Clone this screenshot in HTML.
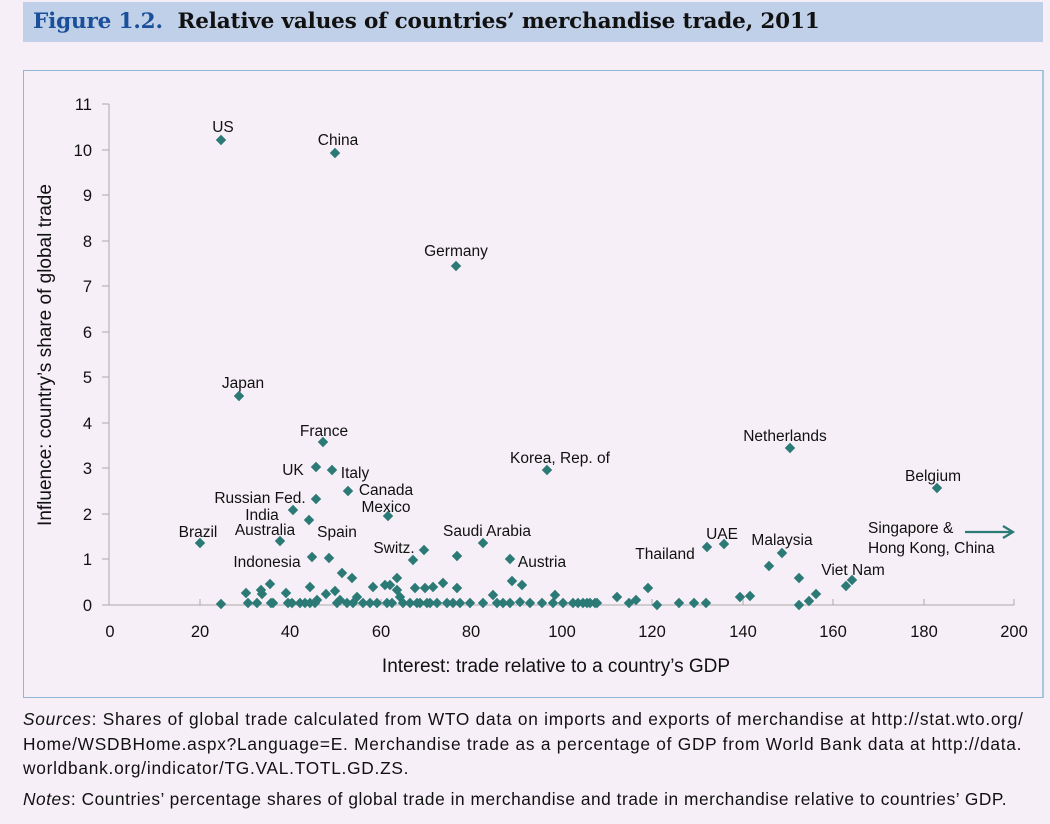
<!DOCTYPE html>
<html><head><meta charset="utf-8"><style>
body{margin:0;background:#f6eff7;width:1050px;height:824px;overflow:hidden;font-family:"Liberation Sans",sans-serif;}
.title{position:absolute;left:23px;top:2px;width:1020px;height:40px;background:#c0d0e8;}
.title span{position:absolute;left:10px;top:7px;font-family:"DejaVu Serif","Liberation Serif",serif;font-weight:bold;font-size:21.5px;color:#111;white-space:nowrap;letter-spacing:-0.15px}
.title b{color:#1a4f9a}
.box{position:absolute;left:23px;top:70px;width:1018px;height:626px;border:1px solid #8fb6d6;border-right:2px solid #a8c8dc;}
.foot{position:absolute;left:23px;top:707px;width:1030px;font-size:17.3px;line-height:24.5px;color:#111;white-space:nowrap;letter-spacing:0.75px}
</style></head><body>
<div class="title"><span><b>Figure 1.2.</b>&nbsp; Relative values of countries’ merchandise trade, 2011</span></div>
<div class="box"></div>
<svg width="1050" height="824" style="position:absolute;left:0;top:0" font-family="Liberation Sans, sans-serif">
<defs><path id="d" d="M0,-5.2 L5.2,0 0,5.2 -5.2,0Z" fill="#2b7a76"/></defs>
<g stroke="#aaa" stroke-width="1" fill="none">
<line x1="109" y1="104" x2="109" y2="605"/>
<line x1="109" y1="605" x2="1014" y2="605"/>
<path d="M102,104H109M102,150H109M102,195H109M102,241H109M102,286H109M102,332H109M102,377H109M102,423H109M102,468H109M102,514H109M102,559H109M102,605H109"/>
<path d="M200,605V599M290,605V599M381,605V599M471,605V599M562,605V599M652,605V599M743,605V599M833,605V599M924,605V599M1014,605V599"/>
</g>
<g font-size="16.5" text-anchor="end" fill="#111">
<text x="92" y="110">11</text><text x="92" y="156">10</text><text x="92" y="201">9</text><text x="92" y="247">8</text><text x="92" y="292">7</text><text x="92" y="338">6</text><text x="92" y="383">5</text><text x="92" y="429">4</text><text x="92" y="474">3</text><text x="92" y="520">2</text><text x="92" y="565">1</text><text x="92" y="611">0</text>
</g>
<g font-size="16.5" text-anchor="middle" fill="#111">
<text x="110" y="637">0</text><text x="200" y="637">20</text><text x="290" y="637">40</text><text x="381" y="637">60</text><text x="471" y="637">80</text><text x="562" y="637">100</text><text x="652" y="637">120</text><text x="743" y="637">140</text><text x="833" y="637">160</text><text x="924" y="637">180</text><text x="1014" y="637">200</text>
</g>
<text x="556" y="672" font-size="19" text-anchor="middle" fill="#111">Interest: trade relative to a country’s GDP</text>
<text transform="translate(51,355) rotate(-90)" font-size="19" text-anchor="middle" fill="#111">Influence: country’s share of global trade</text>
<g font-size="15.5" fill="#111" text-anchor="middle">
<text x="223" y="132">US</text><text x="338" y="145">China</text><text x="456" y="256">Germany</text><text x="243" y="388">Japan</text><text x="324" y="436">France</text><text x="293" y="475">UK</text><text x="355" y="478">Italy</text><text x="260" y="503">Russian Fed.</text><text x="386" y="495">Canada</text><text x="386" y="512">Mexico</text><text x="262" y="520">India</text><text x="265" y="535">Australia</text><text x="337" y="537">Spain</text><text x="198" y="537">Brazil</text><text x="267" y="567">Indonesia</text><text x="394" y="553">Switz.</text><text x="487" y="536">Saudi Arabia</text><text x="542" y="567">Austria</text><text x="560" y="463">Korea, Rep. of</text><text x="785" y="441">Netherlands</text><text x="933" y="481">Belgium</text><text x="722" y="539">UAE</text><text x="782" y="545">Malaysia</text><text x="665" y="559">Thailand</text><text x="853" y="575">Viet Nam</text>
<text x="868" y="533" text-anchor="start">Singapore &amp;</text><text x="868" y="553" text-anchor="start">Hong Kong, China</text>
</g>
<g stroke="#2b7a76" stroke-width="2.2" fill="none"><path d="M965,532H1012M1003,526L1013,532 1003,538"/></g>
<g>
<use href="#d" x="221" y="140"/><use href="#d" x="335" y="153"/><use href="#d" x="456" y="266"/><use href="#d" x="239" y="396"/><use href="#d" x="323" y="442"/><use href="#d" x="316" y="467"/><use href="#d" x="332" y="470"/><use href="#d" x="316" y="499"/><use href="#d" x="348" y="491"/><use href="#d" x="388" y="516"/><use href="#d" x="293" y="510"/><use href="#d" x="309" y="520"/><use href="#d" x="280" y="541"/><use href="#d" x="200" y="543"/><use href="#d" x="547" y="470"/><use href="#d" x="790" y="448"/><use href="#d" x="937" y="488"/>
<use href="#d" x="312" y="557"/><use href="#d" x="329" y="558"/><use href="#d" x="413" y="560"/><use href="#d" x="424" y="550"/><use href="#d" x="457" y="556"/><use href="#d" x="483" y="543"/><use href="#d" x="510" y="559"/>
<use href="#d" x="221" y="604"/><use href="#d" x="246" y="593"/><use href="#d" x="248" y="603"/><use href="#d" x="257" y="603"/><use href="#d" x="261" y="590"/><use href="#d" x="262" y="594"/><use href="#d" x="270" y="584"/><use href="#d" x="271" y="603"/><use href="#d" x="273" y="603"/><use href="#d" x="286" y="593"/><use href="#d" x="288" y="603"/><use href="#d" x="292" y="603"/><use href="#d" x="300" y="603"/><use href="#d" x="305" y="603"/><use href="#d" x="310" y="603"/><use href="#d" x="315" y="603"/><use href="#d" x="310" y="587"/><use href="#d" x="317" y="600"/><use href="#d" x="326" y="594"/><use href="#d" x="335" y="591"/><use href="#d" x="342" y="573"/><use href="#d" x="352" y="578"/><use href="#d" x="340" y="600"/><use href="#d" x="337" y="603"/><use href="#d" x="347" y="603"/><use href="#d" x="353" y="603"/><use href="#d" x="357" y="597"/>
<use href="#d" x="363" y="603"/><use href="#d" x="370" y="603"/><use href="#d" x="373" y="587"/><use href="#d" x="377" y="603"/><use href="#d" x="385" y="585"/><use href="#d" x="387" y="603"/><use href="#d" x="390" y="585"/><use href="#d" x="392" y="603"/><use href="#d" x="397" y="578"/><use href="#d" x="397" y="590"/><use href="#d" x="400" y="597"/><use href="#d" x="403" y="603"/><use href="#d" x="410" y="603"/><use href="#d" x="415" y="588"/><use href="#d" x="417" y="603"/><use href="#d" x="420" y="603"/><use href="#d" x="425" y="588"/><use href="#d" x="427" y="603"/><use href="#d" x="430" y="603"/><use href="#d" x="433" y="587"/><use href="#d" x="437" y="603"/><use href="#d" x="443" y="583"/><use href="#d" x="447" y="603"/><use href="#d" x="453" y="603"/><use href="#d" x="457" y="588"/><use href="#d" x="460" y="603"/><use href="#d" x="470" y="603"/><use href="#d" x="483" y="603"/><use href="#d" x="493" y="595"/><use href="#d" x="497" y="603"/><use href="#d" x="503" y="603"/><use href="#d" x="510" y="603"/><use href="#d" x="512" y="581"/><use href="#d" x="522" y="585"/><use href="#d" x="520" y="602"/><use href="#d" x="530" y="603"/><use href="#d" x="542" y="603"/><use href="#d" x="553" y="603"/><use href="#d" x="555" y="595"/><use href="#d" x="563" y="603"/><use href="#d" x="573" y="603"/><use href="#d" x="578" y="603"/><use href="#d" x="587" y="603"/><use href="#d" x="595" y="603"/><use href="#d" x="617" y="597"/>
<use href="#d" x="583" y="603"/><use href="#d" x="590" y="603"/><use href="#d" x="597" y="603"/><use href="#d" x="629" y="603"/><use href="#d" x="636" y="600"/><use href="#d" x="648" y="588"/><use href="#d" x="657" y="605"/><use href="#d" x="679" y="603"/><use href="#d" x="694" y="603"/><use href="#d" x="706" y="603"/><use href="#d" x="707" y="547"/><use href="#d" x="724" y="544"/><use href="#d" x="740" y="597"/><use href="#d" x="750" y="596"/><use href="#d" x="769" y="566"/><use href="#d" x="782" y="553"/><use href="#d" x="799" y="578"/><use href="#d" x="799" y="605"/><use href="#d" x="809" y="601"/><use href="#d" x="816" y="594"/><use href="#d" x="846" y="586"/><use href="#d" x="852" y="580"/>
</g>
</svg>
<div class="foot"><i>Sources</i>: Shares of global trade calculated from WTO data on imports and exports of merchandise at http://stat.wto.org/<br>Home/WSDBHome.aspx?Language=E. Merchandise trade as a percentage of GDP from World Bank data at http://data.<br>worldbank.org/indicator/TG.VAL.TOTL.GD.ZS.<div style="margin-top:6px;letter-spacing:0.55px"><i>Notes</i>: Countries’ percentage shares of global trade in merchandise and trade in merchandise relative to countries’ GDP.</div></div>
</body></html>
